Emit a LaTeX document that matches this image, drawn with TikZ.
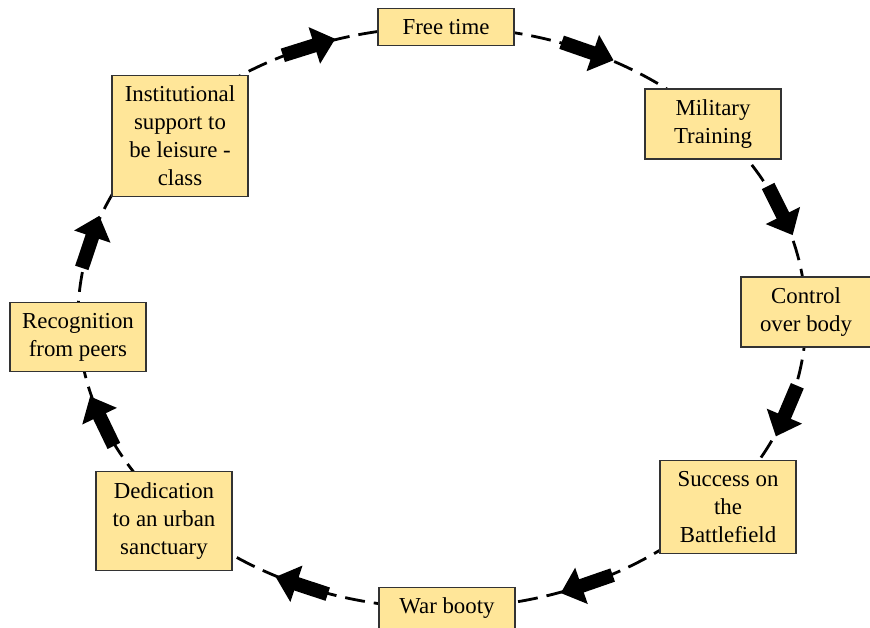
\documentclass[tikz,border=0pt]{standalone}
\usepackage{fontspec}
\setmainfont{Liberation Serif}
\newfontfamily\stagefont{Liberation Serif}
\usetikzlibrary{arrows.meta}
\definecolor{boxfill}{RGB}{255,230,153}
\tikzset{
  stage/.style={draw=black!80, fill=boxfill, line width=0.6pt, align=center,
    minimum width=2.72cm, inner ysep=6pt, font=\stagefont\fontsize{13}{16}\selectfont},
  flowarrow/.style={line width=0.28cm, -{Triangle[length=0.44cm, width=0.74cm]}}
}
\begin{document}
\begin{tikzpicture}[x=0.02cm,y=0.02cm]
    \useasboundingbox (0,0) rectangle (870,627);
    % the cycle
    \draw[line width=1.6pt, dash pattern=on 0.4cm off 0.18cm]
        (442,309.5) ellipse [x radius=364, y radius=290.5];
    \foreach \t [count=\i] in {111.5,66.5,21.7,-18.7,-66.5,-112.6,201,165} {
        \pgfmathsetmacro\a{atan2(-290.5*cos(\t),364*sin(\t))}
        \coordinate (mid\i) at ({442+364*cos(\t)},{309.5+290.5*sin(\t)});
        \path (mid\i) ++(\a+180:27) coordinate (tail\i) ++(\a:55) coordinate (tip\i);
        \draw[flowarrow] (tail\i) -- (tip\i);
    }
    % stages
    \node[stage] (free) at (446,600) {Free time};
    \node[stage] (military) at (713,503) {Military\\Training};
    \node[stage, minimum width=2.6cm] (control) at (806,315) {Control\\over body};
    \node[stage] (success) at (728,120) {Success on\\the\\Battlefield};
    \node[stage] (booty) at (447,19) {War booty};
    \node[stage] (dedication) at (164,106) {Dedication\\to an urban\\sanctuary};
    \node[stage] (recognition) at (78,290) {Recognition\\from peers};
    \node[stage] (institutional) at (180,491) {Institutional\\support to\\be leisure -\\class};
\end{tikzpicture}
\end{document}
